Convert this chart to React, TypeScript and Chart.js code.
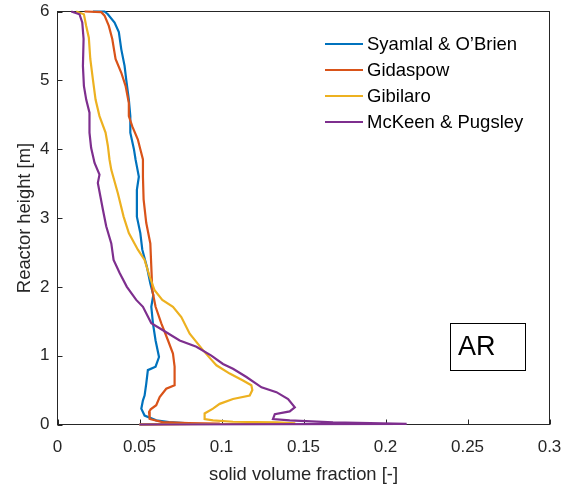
import React, { useEffect, useRef } from 'react';
import { Chart, registerables } from 'chart.js';

Chart.register(...registerables);

const seriesNames = ['Syamlal & O\u2019Brien', 'Gidaspow', 'Gibilaro', 'McKeen & Pugsley'];
const seriesColors = ['#0072BD', '#D95319', '#EDB120', '#7E2F8E'];

const xTicks = [0, 0.05, 0.1, 0.15, 0.2, 0.25, 0.3];
const yTicks = [0, 1, 2, 3, 4, 5, 6];
const xTitle = 'solid volume fraction [-]';
const yTitle = 'Reactor height [m]';
const annotationText = 'AR';

const syamlalX = [0.0216, 0.0287, 0.0307, 0.0348, 0.0374, 0.0389, 0.0409, 0.0419, 0.0435, 0.0444, 0.0444, 0.0466, 0.0476, 0.0484, 0.0496, 0.0484, 0.0484, 0.0505, 0.0517, 0.0545, 0.0566, 0.0584, 0.0572, 0.0582, 0.0598, 0.0619, 0.0598, 0.0551, 0.0541, 0.0531, 0.0521, 0.0511, 0.0531, 0.0602, 0.068, 0.08, 0.05];
const syamlalH = [6.0, 6.0, 5.96, 5.84, 5.70, 5.45, 5.21, 5.01, 4.72, 4.48, 4.24, 4.00, 3.85, 3.75, 3.60, 3.41, 3.02, 2.78, 2.54, 2.29, 2.05, 1.88, 1.71, 1.47, 1.22, 0.98, 0.84, 0.79, 0.59, 0.42, 0.35, 0.23, 0.13, 0.06, 0.035, 0.015, 0];

const gidaspowX = [0.0165, 0.0267, 0.0287, 0.0313, 0.0334, 0.0354, 0.0389, 0.0415, 0.0435, 0.0435, 0.0456, 0.049, 0.0505, 0.0521, 0.0521, 0.0525, 0.0541, 0.0566, 0.0572, 0.0578, 0.0598, 0.0633, 0.0674, 0.0704, 0.0714, 0.0714, 0.0663, 0.0623, 0.0602, 0.0568, 0.0558, 0.0562, 0.0640, 0.080, 0.099, 0.05];
const gidaspowH = [6.0, 5.99, 5.94, 5.79, 5.60, 5.31, 5.11, 4.92, 4.67, 4.48, 4.33, 4.14, 4.0, 3.85, 3.6, 3.27, 2.93, 2.63, 2.29, 1.95, 1.71, 1.47, 1.22, 1.03, 0.84, 0.57, 0.52, 0.40, 0.28, 0.22, 0.18, 0.08, 0.035, 0.02, 0.012, 0];

const gibilaroX = [0.0114, 0.0161, 0.0175, 0.0191, 0.02, 0.0216, 0.0232, 0.0256, 0.0293, 0.0307, 0.0317, 0.0328, 0.0368, 0.0403, 0.0435, 0.049, 0.0531, 0.0562, 0.0592, 0.0639, 0.0704, 0.0755, 0.0806, 0.0887, 0.0935, 0.0969, 0.105, 0.1131, 0.1182, 0.1188, 0.1172, 0.107, 0.0989, 0.0948, 0.0897, 0.0897, 0.0948, 0.107, 0.134, 0.145, 0.05];
const gibilaroH = [6.0, 5.96, 5.79, 5.62, 5.31, 5.01, 4.72, 4.48, 4.24, 4.05, 3.85, 3.70, 3.36, 3.02, 2.78, 2.54, 2.39, 2.15, 1.95, 1.81, 1.71, 1.56, 1.32, 1.08, 0.95, 0.86, 0.74, 0.64, 0.57, 0.50, 0.42, 0.37, 0.30, 0.23, 0.16, 0.08, 0.06, 0.04, 0.03, 0.015, 0];

const mckeenX = [0.0084, 0.0134, 0.0151, 0.0159, 0.0155, 0.0161, 0.0175, 0.0195, 0.0195, 0.0205, 0.0226, 0.0256, 0.0246, 0.0277, 0.0297, 0.0328, 0.0342, 0.0379, 0.0423, 0.048, 0.0521, 0.0572, 0.0643, 0.0745, 0.0847, 0.0938, 0.1009, 0.107, 0.1152, 0.1244, 0.1335, 0.1406, 0.1447, 0.1416, 0.1325, 0.1314, 0.1416, 0.168, 0.2129, 0.05];
const mckeenH = [6.0, 5.96, 5.84, 5.60, 5.21, 4.92, 4.72, 4.53, 4.24, 4.02, 3.80, 3.63, 3.51, 3.12, 2.88, 2.63, 2.39, 2.20, 2.0, 1.81, 1.71, 1.47, 1.37, 1.22, 1.13, 1.0, 0.88, 0.81, 0.69, 0.54, 0.47, 0.37, 0.25, 0.19, 0.15, 0.08, 0.06, 0.03, 0.01, 0];

const seriesX = [syamlalX, gidaspowX, gibilaroX, mckeenX];
const seriesH = [syamlalH, gidaspowH, gibilaroH, mckeenH];

const FONT = "'Liberation Sans', Arial, sans-serif";
const AXIS_COLOR = '#262626';

const zeroPadding = (s: any) => {
  s.paddingTop = 0;
  s.paddingBottom = 0;
  s.paddingLeft = 0;
  s.paddingRight = 0;
};

const framePlugin = {
  id: 'frame',
  beforeDatasetsDraw(chart: any) {
    const { ctx, chartArea: a, scales } = chart;
    ctx.save();
    ctx.strokeStyle = AXIS_COLOR;
    ctx.lineWidth = 1;
    ctx.strokeRect(a.left, a.top, a.right - a.left, a.bottom - a.top);
    ctx.beginPath();
    scales.x.ticks.forEach((t: any) => {
      const px = Math.round(scales.x.getPixelForValue(t.value)) + 0.5;
      ctx.moveTo(px, a.bottom);
      ctx.lineTo(px, a.bottom - 5);
    });
    scales.y.ticks.forEach((t: any) => {
      const py = Math.round(scales.y.getPixelForValue(t.value)) + 0.5;
      ctx.moveTo(a.left, py);
      ctx.lineTo(a.left + 5, py);
    });
    ctx.stroke();
    ctx.restore();
  },
  afterDraw(chart: any) {
    const { ctx } = chart;
    ctx.save();
    // legend
    const x0 = 325;
    const y0 = 44;
    const dy = 26;
    ctx.font = `18.5px ${FONT}`;
    ctx.textBaseline = 'middle';
    ctx.textAlign = 'left';
    chart.data.datasets.forEach((ds: any, i: number) => {
      const y = y0 + i * dy;
      ctx.strokeStyle = ds.borderColor;
      ctx.lineWidth = 2;
      ctx.beginPath();
      ctx.moveTo(x0, y);
      ctx.lineTo(x0 + 38, y);
      ctx.stroke();
      ctx.fillStyle = '#000';
      ctx.fillText(ds.label, x0 + 42, y + 1);
    });
    // annotation box
    ctx.strokeStyle = '#000';
    ctx.lineWidth = 1;
    ctx.strokeRect(450.5, 323.5, 75, 47);
    ctx.font = `27px ${FONT}`;
    ctx.fillStyle = '#000';
    ctx.fillText(annotationText, 458, 347.5);
    ctx.restore();
  },
};

export default function App() {
  const ref = useRef<HTMLCanvasElement | null>(null);
  useEffect(() => {
    if (!ref.current) return;
    const chart = new Chart(ref.current, {
      type: 'line',
      data: {
        datasets: seriesNames.map((name, i) => ({
          label: name,
          data: seriesX[i].map((x, j) => ({ x, y: seriesH[i][j] })),
          borderColor: seriesColors[i],
          backgroundColor: seriesColors[i],
          borderWidth: 2.2,
          pointRadius: 0,
          fill: false,
          tension: 0,
          clip: 4,
          order: 4 - i,
        })),
      },
      options: {
        animation: false,
        responsive: false,
        devicePixelRatio: 1,
        layout: { padding: { left: 0, top: 11.5, right: 21.5, bottom: 0 } },
        plugins: { legend: { display: false }, tooltip: { enabled: false } },
        scales: {
          x: {
            type: 'linear',
            min: 0,
            max: 0.3,
            afterBuildTicks: (s: any) => {
              s.ticks = xTicks.map((v) => ({ value: v }));
            },
            afterFit: (s: any) => {
              s.height = 59.5;
              zeroPadding(s);
            },
            grid: { display: false, drawTicks: false, tickLength: 0 },
            border: { display: false },
            ticks: {
              color: AXIS_COLOR,
              font: { family: FONT, size: 17 },
              padding: 13,
              maxRotation: 0,
              autoSkip: false,
              callback: (v: any) => String(v),
            },
            title: {
              display: true,
              text: xTitle,
              color: AXIS_COLOR,
              font: { family: FONT, size: 18.4 },
              padding: { top: 0, bottom: -2 },
            },
          },
          y: {
            type: 'linear',
            min: 0,
            max: 6,
            afterBuildTicks: (s: any) => {
              s.ticks = yTicks.map((v) => ({ value: v }));
            },
            afterFit: (s: any) => {
              s.width = 57.5;
              zeroPadding(s);
            },
            grid: { display: false, drawTicks: false, tickLength: 0 },
            border: { display: false },
            ticks: {
              color: AXIS_COLOR,
              font: { family: FONT, size: 17 },
              padding: 8,
              autoSkip: false,
              callback: (v: any) => String(v),
            },
            title: {
              display: true,
              text: yTitle,
              color: AXIS_COLOR,
              font: { family: FONT, size: 18.4 },
              padding: { top: 14, bottom: 0 },
            },
          },
        },
      },
      plugins: [framePlugin],
    } as any);
    return () => chart.destroy();
  }, []);
  return (
    <canvas
      ref={ref}
      width={571}
      height={484}
      style={{ position: 'absolute', left: 0, top: 0, width: 571, height: 484 }}
    />
  );
}
